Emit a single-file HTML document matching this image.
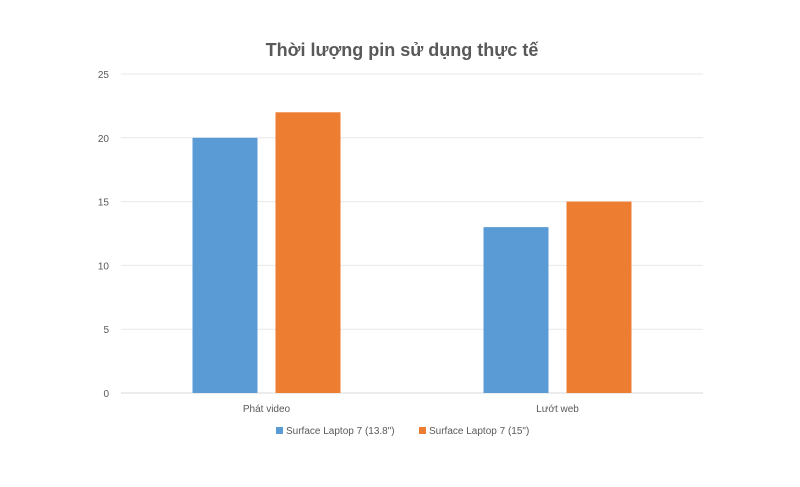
<!DOCTYPE html>
<html><head><meta charset="utf-8"><style>
body{margin:0;background:#fff;width:800px;height:482px;overflow:hidden;font-family:"Liberation Sans",sans-serif}
</style></head><body>
<svg id="chart" width="800" height="482">
<text x="402" y="56" text-anchor="middle" font-size="18" font-weight="bold" fill="#595959">Thời lượng pin sử dụng thực tế</text>
<g id="grid"></g><g id="bars"></g><g id="labels"></g>
<g>
<rect x="276" y="427" width="7" height="7" fill="#5b9bd5"/>
<text x="286" y="434" font-size="10" fill="#595959">Surface Laptop 7 (13.8")</text>
<rect x="419" y="427" width="7" height="7" fill="#ed7d31"/>
<text x="429" y="434" font-size="10" fill="#595959">Surface Laptop 7 (15")</text>
</g>
</svg>
<script>
const categories=["Phát video","Lướt web"];
const series13=[20,13];
const series15=[22,15];
const ticks=[0,5,10,15,20,25];
const colors=["#5b9bd5","#ed7d31"];
const NS="http://www.w3.org/2000/svg";
const x0=121,x1=703,y0=393,y1=74,maxV=25;
const y=v=>y0-(v/maxV)*(y0-y1);
const catW=(x1-x0)/categories.length;
function mk(tag,attrs,parent,txt){const e=document.createElementNS(NS,tag);for(const k in attrs)e.setAttribute(k,attrs[k]);if(txt!==undefined)e.textContent=txt;document.getElementById(parent).appendChild(e);return e;}
ticks.forEach(t=>{
 const l=mk("line",{x1:x0,x2:x1,y1:y(t),y2:y(t),stroke:t===0?"#d9d9d9":"#e8e8e8","stroke-width":1},"grid");
 
 
 const tx=mk("text",{x:109,y:y(t)+4,"text-anchor":"end","font-size":10,fill:"#595959"},"labels",String(t));
 
 
});
const bw=65,gap=18;
categories.forEach((c,i)=>{
 const cx=x0+catW*(i+0.5);
 [series13[i],series15[i]].forEach((v,j)=>{
  const bx=cx-gap/2-bw+j*(bw+gap);
  const r=mk("rect",{x:bx,y:y(v),width:bw,height:y0-y(v),fill:colors[j]},"bars");
  
  
 });
 const t=mk("text",{x:cx,y:412,"text-anchor":"middle","font-size":10,fill:"#595959"},"labels",c);
 
 
});
</script>
</body></html>
